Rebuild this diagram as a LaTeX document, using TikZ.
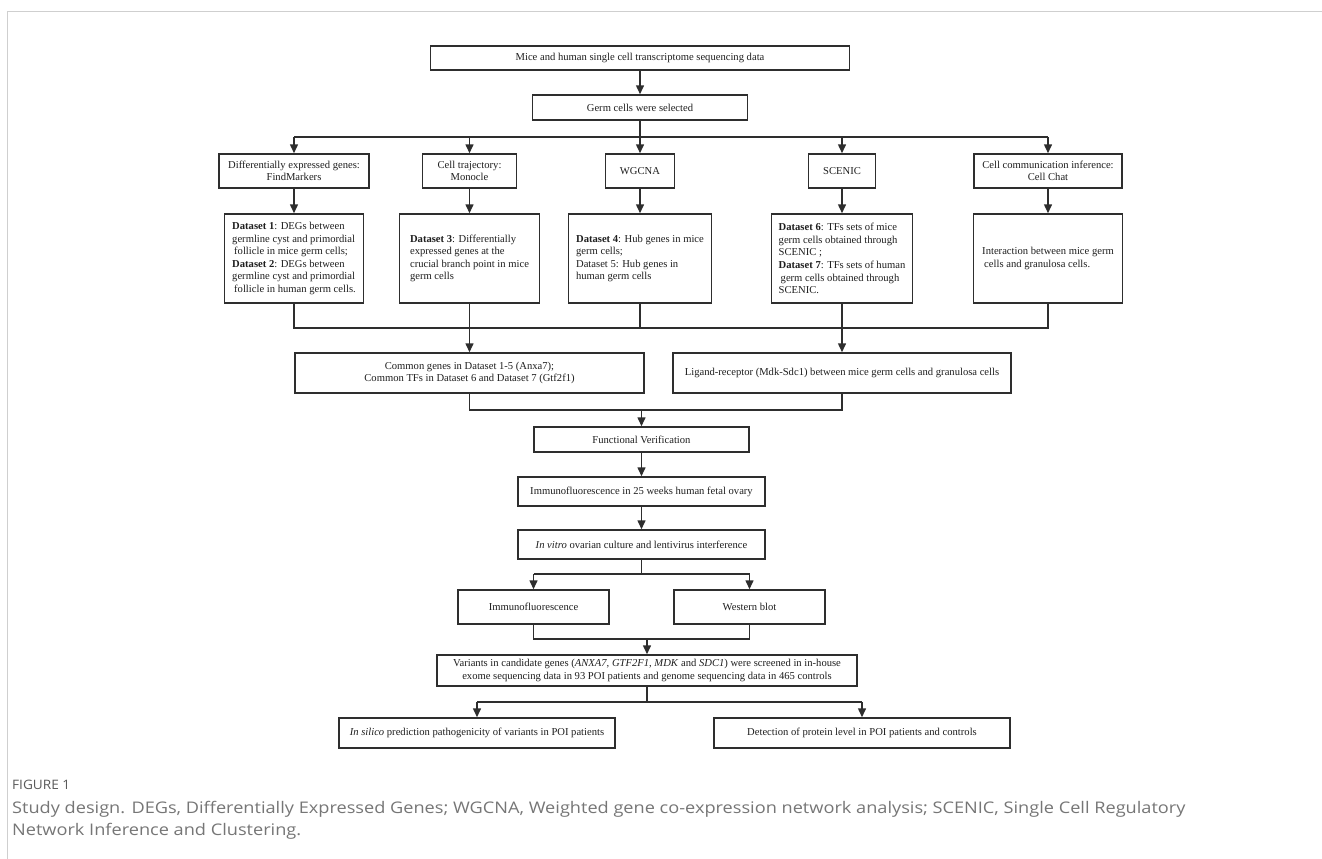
\documentclass[tikz,border=0pt]{standalone}
\usepackage{fontspec}
\setmainfont{Liberation Serif}
\newfontfamily\capfont{Open Sans}
\usetikzlibrary{arrows.meta}
\definecolor{lncol}{HTML}{2E2E2E}
\definecolor{frm}{HTML}{CFCFCF}
\definecolor{capc}{HTML}{767676}
\definecolor{figc}{HTML}{5A5A5A}
\begin{document}
\begin{tikzpicture}[x=1pt,y=-1pt,
  box/.style={draw=lncol, line width=1.5pt, inner sep=0pt, align=center,
    font=\fontsize{10.6}{12.6}\selectfont, text=black!88},
  dbox/.style={box, align=left, minimum height=89pt},
  conn/.style={draw=lncol, line width=1.5pt},
  arr/.style={conn, -{Triangle[length=9pt,width=8pt]}}]
\useasboundingbox (0,0) rectangle (1322,859);
\fill[white] (0,0) rectangle (1322,859);
% frame
\draw[frm, line width=1pt] (7,12) -- (1322,12);
\draw[frm, line width=1pt] (7,12) -- (7,859);

% top
\node[box, minimum width=419pt, minimum height=24pt] (top) at (640,58) {Mice and human single cell transcriptome sequencing data};
\node[box, minimum width=215pt, minimum height=25pt] (germ) at (640,107.5) {Germ cells were selected};

% methods row
\node[box, minimum width=150pt, minimum height=34pt] (mA) at (294,171) {Differentially expressed genes:\\FindMarkers};
\node[box, minimum width=94pt, minimum height=34pt] (mB) at (469.5,171) {Cell trajectory:\\Monocle};
\node[box, minimum width=69pt, minimum height=34pt] (mC) at (640,171) {WGCNA};
\node[box, minimum width=67pt, minimum height=34pt] (mD) at (842,171) {SCENIC};
\node[box, minimum width=148pt, minimum height=34pt] (mE) at (1048,171) {Cell communication inference:\\Cell Chat};

% dataset row
\node[dbox, minimum width=139pt] (dA) at (294,258.5) {\textbf{Dataset 1}: DEGs between\\germline cyst and primordial\\\hspace*{2pt}follicle in mice germ cells;\\\textbf{Dataset 2}: DEGs between\\germline cyst and primordial\\\hspace*{2pt}follicle in human germ cells.};
\node[dbox, minimum width=140pt] (dB) at (469.5,258.5) {\textbf{Dataset 3}: Differentially\\expressed genes at the\\crucial branch point in mice\\germ cells};
\node[dbox, minimum width=143pt] (dC) at (640,258.5) {\textbf{Dataset 4}: Hub genes in mice\\germ cells;\\Dataset 5: Hub genes in\\human germ cells};
\node[dbox, minimum width=141pt] (dD) at (842,258.5) {\textbf{Dataset 6}: TFs sets of mice\\germ cells obtained through\\SCENIC ;\\\textbf{Dataset 7}: TFs sets of human\\\hspace*{2pt}germ cells obtained through\\SCENIC.};
\node[dbox, minimum width=149pt] (dE) at (1048,258.5) {Interaction between mice germ\\\hspace*{2pt}cells and granulosa cells.};

% integration
\node[box, minimum width=349pt, minimum height=40pt] (common) at (469.5,373) {Common genes in Dataset 1-5 (Anxa7);\\Common TFs in Dataset 6 and Dataset 7 (Gtf2f1)};
\node[box, minimum width=338pt, minimum height=40pt] (lig) at (842,373) {Ligand-receptor (Mdk-Sdc1) between mice germ cells and granulosa cells};

% verification
\node[box, minimum width=215pt, minimum height=25pt] (func) at (641.5,439.5) {Functional Verification};
\node[box, minimum width=247pt, minimum height=29pt] (if25) at (641.5,491.5) {Immunofluorescence in 25 weeks human fetal ovary};
\node[box, minimum width=247pt, minimum height=29pt] (vitro) at (641.5,544.5) {\textit{In vitro} ovarian culture and lentivirus interference};
\node[box, minimum width=151pt, minimum height=34pt] (if) at (533.5,607) {Immunofluorescence};
\node[box, minimum width=151pt, minimum height=34pt] (wb) at (749.5,607) {Western blot};
\node[box, minimum width=420pt, minimum height=31pt] (var) at (647,670.5) {Variants in candidate genes (\textit{ANXA7}, \textit{GTF2F1}, \textit{MDK} and \textit{SDC1}) were screened in in-house\\exome sequencing data in 93 POI patients and genome sequencing data in 465 controls};
\node[box, minimum width=276pt, minimum height=30pt] (sil) at (477,733) {\textit{In silico} prediction pathogenicity of variants in POI patients};
\node[box, minimum width=296pt, minimum height=30pt] (det) at (862,733) {Detection of protein level in POI patients and controls};

% junction coordinates
\coordinate (j1) at (0,137);
\coordinate (j2) at (0,328);
\coordinate (j3) at (0,410);
\coordinate (j4) at (0,574);
\coordinate (j5) at (0,639);
\coordinate (j6) at (0,702);

% connectors
\draw[arr] (top.south) -- (germ.north);
\draw[arr] (germ.south) -- (mC.north);
\draw[conn] (mA.north |- j1) -- (mE.north |- j1);
\foreach \n in {mA,mB,mD,mE} \draw[arr] (\n.north |- j1) -- (\n.north);
\foreach \a/\b in {mA/dA,mB/dB,mC/dC,mD/dD,mE/dE} \draw[arr] (\a.south) -- (\b.north);

\draw[conn] (dA.south) -- (dA.south |- j2) -- (dE.south |- j2) -- (dE.south);
\draw[conn] (dC.south) -- (dC.south |- j2);
\draw[arr] (dB.south) -- (common.north);
\draw[arr] (dD.south) -- (lig.north);

\draw[conn] (common.south) -- (common.south |- j3) -- (lig.south |- j3) -- (lig.south);
\draw[arr] (func.north |- j3) -- (func.north);
\draw[arr] (func.south) -- (if25.north);
\draw[arr] (if25.south) -- (vitro.north);
\draw[conn] (vitro.south) -- (vitro.south |- j4);
\draw[conn] (if.north |- j4) -- (wb.north |- j4);
\draw[arr] (if.north |- j4) -- (if.north);
\draw[arr] (wb.north |- j4) -- (wb.north);
\draw[conn] (if.south) -- (if.south |- j5) -- (wb.south |- j5) -- (wb.south);
\draw[arr] (var.north |- j5) -- (var.north);
\draw[conn] (var.south) -- (var.south |- j6);
\draw[conn] (sil.north |- j6) -- (det.north |- j6);
\draw[arr] (sil.north |- j6) -- (sil.north);
\draw[arr] (det.north |- j6) -- (det.north);

% caption
\node[anchor=west, inner sep=0pt, font=\capfont\fontsize{13}{15}\selectfont, text=figc] (figlab) at (12,785) {\scalebox{1.05}[1]{FIGURE 1}};
\node[anchor=north west, inner sep=0pt] (cap) at (12,798) {\scalebox{1.135}[1]{\capfont\fontsize{16}{22}\selectfont\color{capc}\begin{tabular}{@{}l@{}}Study design. DEGs, Differentially Expressed Genes; WGCNA, Weighted gene co-expression network analysis; SCENIC, Single Cell Regulatory\\Network Inference and Clustering.\end{tabular}}};
\end{tikzpicture}
\end{document}
